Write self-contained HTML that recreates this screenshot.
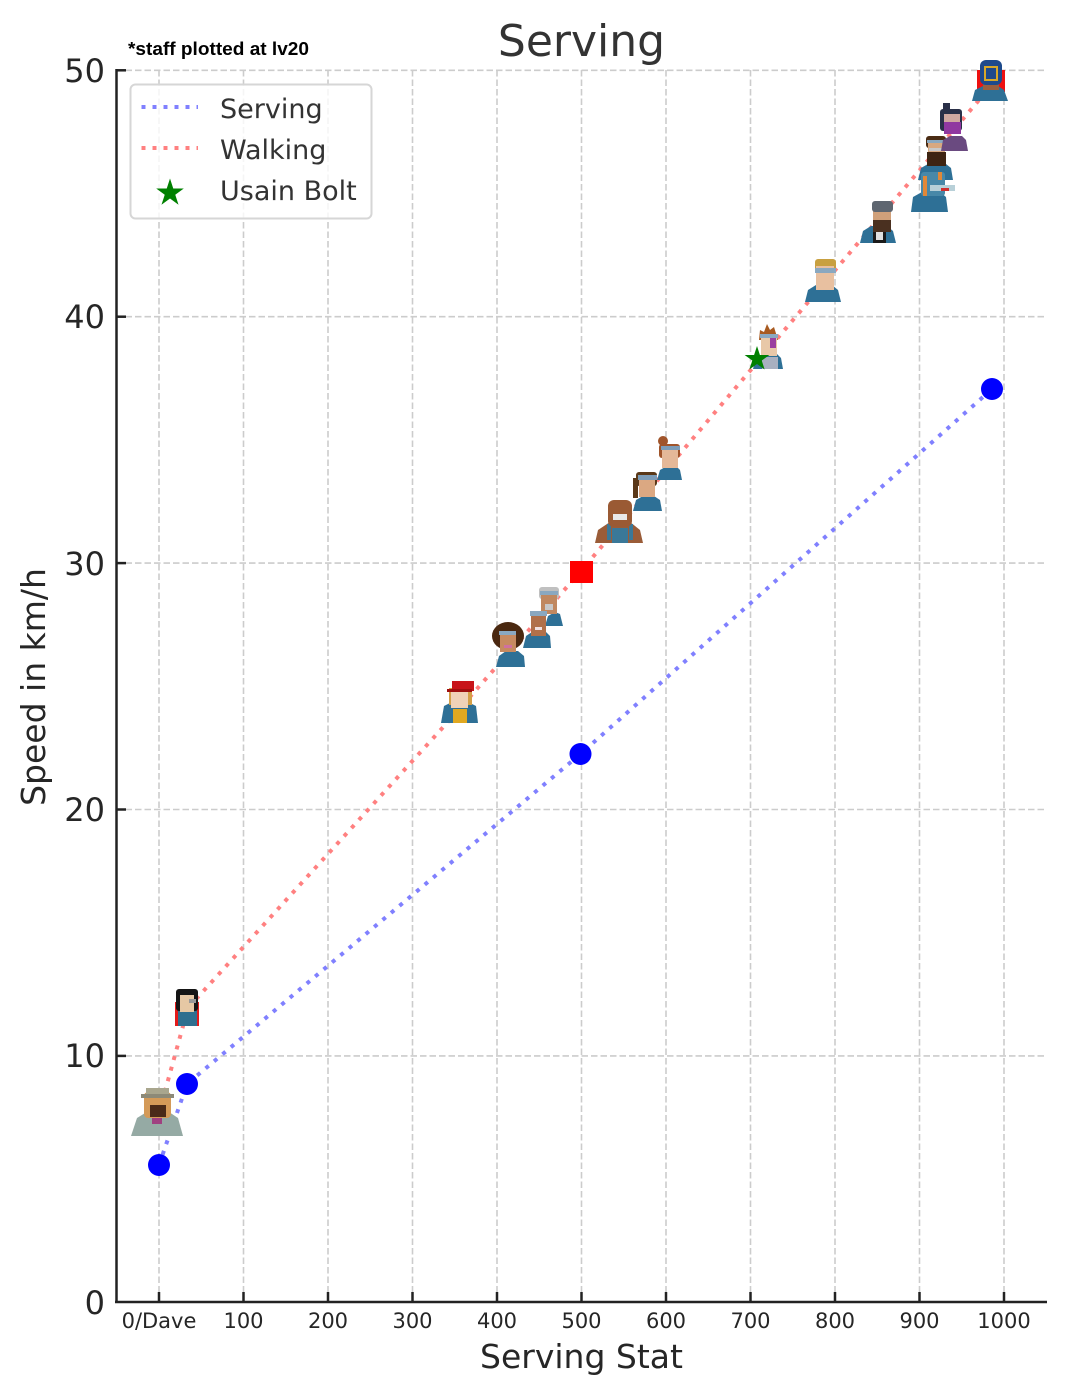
<!DOCTYPE html>
<html><head><meta charset="utf-8"><style>
html,body{margin:0;padding:0;background:#fff}
svg{display:block}
text{font-family:"DejaVu Sans","Liberation Sans",sans-serif}
</style></head><body>
<svg width="1066" height="1396" viewBox="0 0 1066 1396" xmlns="http://www.w3.org/2000/svg">
<rect width="1066" height="1396" fill="#fff"/>
<!-- grid -->
<g stroke="#cccccc" stroke-width="1.6" stroke-dasharray="6.5 3" fill="none">
<line x1="159" y1="70" x2="159" y2="1302"/>
<line x1="243.5" y1="70" x2="243.5" y2="1302"/>
<line x1="328" y1="70" x2="328" y2="1302"/>
<line x1="412.5" y1="70" x2="412.5" y2="1302"/>
<line x1="497" y1="70" x2="497" y2="1302"/>
<line x1="581.5" y1="70" x2="581.5" y2="1302"/>
<line x1="666" y1="70" x2="666" y2="1302"/>
<line x1="750.5" y1="70" x2="750.5" y2="1302"/>
<line x1="835" y1="70" x2="835" y2="1302"/>
<line x1="919.5" y1="70" x2="919.5" y2="1302"/>
<line x1="1004" y1="70" x2="1004" y2="1302"/>
<line x1="116" y1="70.3" x2="1047" y2="70.3"/>
<line x1="116" y1="316.7" x2="1047" y2="316.7"/>
<line x1="116" y1="563.1" x2="1047" y2="563.1"/>
<line x1="116" y1="809.5" x2="1047" y2="809.5"/>
<line x1="116" y1="1055.9" x2="1047" y2="1055.9"/>
</g>
<!-- series lines -->
<polyline points="159,1165 187,1084 580.5,754 992,389" fill="none" stroke="#8080ff" stroke-width="4" stroke-dasharray="4 7"/>
<polyline points="159,1113 188,1008 446,724 491,673 581,571 749,372 990,87" fill="none" stroke="#ff8080" stroke-width="4" stroke-dasharray="4 7"/>

<!-- portraits -->
<!-- Dave -->
<g>
<polygon points="131,1136 137,1118 150,1110 166,1110 178,1118 183,1136" fill="#95aaa4"/>
<rect x="152" y="1112" width="10" height="12" fill="#a04080"/>
<rect x="144" y="1092" width="27" height="26" rx="4" fill="#d49a58"/>
<rect x="150" y="1105" width="16" height="12" fill="#4a2a18"/>
<rect x="146" y="1088" width="23" height="8" fill="#a9a68e"/>
<rect x="141" y="1094" width="33" height="4" fill="#8d8a78"/>
</g>
<!-- girl black hair -->
<g>
<rect x="175" y="1002" width="24" height="24" fill="#e41a1a"/>
<rect x="178" y="1010" width="19" height="16" fill="#2f6f8f"/>
<rect x="176" y="989" width="22" height="22" rx="3" fill="#151515"/>
<rect x="180" y="995" width="14" height="17" fill="#e6c8a4"/>
<rect x="189" y="999" width="7" height="4" fill="#999"/>
</g>
<!-- red cap -->
<g>
<polygon points="441,723 444,706 452,702 468,702 476,706 478,723" fill="#2e7096"/>
<rect x="453" y="709" width="14" height="14" fill="#e0a820"/>
<rect x="449" y="688" width="23" height="17" fill="#d4a048"/>
<rect x="451" y="690" width="17" height="18" fill="#f0d2b8"/>
<rect x="452" y="681" width="22" height="10" fill="#c8141a"/>
<rect x="447" y="689" width="25" height="3" fill="#a01010"/>
</g>
<!-- grey hair -->
<g>
<polygon points="545,626 548,616 555,612 560,614 563,626" fill="#2e7096"/>
<rect x="539" y="587" width="20" height="12" rx="3" fill="#c0c0c0"/>
<rect x="541" y="593" width="16" height="21" fill="#c08860"/>
<rect x="545" y="604" width="8" height="6" fill="#c8c8c8"/>
<rect x="540" y="591" width="18" height="4" fill="#8aa8c0"/>
</g>
<!-- headband man -->
<g>
<polygon points="523,648 526,636 532,632 546,632 550,636 551,648" fill="#2e7096"/>
<rect x="531" y="611" width="15" height="25" fill="#b0704a"/>
<rect x="530" y="611" width="17" height="5" fill="#8aa8c0"/>
<rect x="535" y="627" width="7" height="3" fill="#f0e0e0"/>
</g>
<!-- afro -->
<g>
<polygon points="496,667 499,656 506,651 518,651 524,656 525,667" fill="#2e7096"/>
<ellipse cx="508" cy="636" rx="16" ry="14" fill="#4a2810"/>
<rect x="500" y="633" width="16" height="19" fill="#c78a60"/>
<rect x="499" y="631" width="17" height="4" fill="#8aa8c0"/>
<rect x="504" y="645" width="8" height="3" fill="#d070a0"/>
</g>
<!-- bald man -->
<g>
<polygon points="595,543 598,530 610,522 630,522 640,530 643,543" fill="#9a5c38"/>
<rect x="612" y="528" width="16" height="15" fill="#3a7898"/>
<rect x="607" y="524" width="4" height="16" fill="#3a7898"/>
<rect x="629" y="524" width="4" height="16" fill="#3a7898"/>
<rect x="608" y="500" width="24" height="27" rx="6" fill="#9a5a34"/>
<rect x="613" y="514" width="14" height="6" fill="#e8e8e8"/>
</g>
<!-- ponytail -->
<g>
<polygon points="633,511 636,500 643,496 654,496 660,500 662,511" fill="#2e7096"/>
<rect x="636" y="472" width="21" height="14" rx="3" fill="#5a3818"/>
<rect x="633" y="478" width="5" height="20" fill="#5a3818"/>
<rect x="639" y="477" width="16" height="20" fill="#dba882"/>
<rect x="638" y="475" width="19" height="5" fill="#7c9cb8"/>
</g>
<!-- bun -->
<g>
<polygon points="657,480 660,470 667,466 676,466 680,470 682,480" fill="#2e7096"/>
<circle cx="663" cy="441" r="5" fill="#a0542a"/>
<rect x="659" y="444" width="21" height="14" rx="3" fill="#a0542a"/>
<rect x="662" y="450" width="16" height="18" fill="#e4b898"/>
<rect x="661" y="446" width="19" height="4" fill="#7c9cb8"/>
</g>
<!-- punk -->
<g>
<polygon points="753,369 756,358 763,354 777,354 781,358 783,369" fill="#2e7096"/>
<rect x="762" y="357" width="16" height="12" fill="#a8b0c0"/>
<polygon points="759,340 760,330 764,332 767,324 770,330 774,327 778,340" fill="#a85a20"/>
<rect x="761" y="336" width="16" height="20" fill="#e8c8a8"/>
<rect x="770" y="338" width="6" height="10" fill="#9a40a0"/>
<rect x="760" y="334" width="18" height="4" fill="#8aa8c0"/>
</g>
<!-- blond -->
<g>
<polygon points="805,302 808,290 816,285 832,285 838,290 841,302" fill="#2e7096"/>
<rect x="815" y="259" width="21" height="13" rx="3" fill="#c8a040"/>
<rect x="816" y="266" width="18" height="24" fill="#e8c0a0"/>
<rect x="815" y="268" width="21" height="5" fill="#8aa8c0"/>
</g>
<!-- beanie -->
<g>
<polygon points="860,243 863,231 871,226 887,226 893,231 896,243" fill="#2e7096"/>
<rect x="873" y="229" width="13" height="14" fill="#1a1a1a"/>
<rect x="876" y="232" width="7" height="8" fill="#e0e0e0"/>
<rect x="873" y="210" width="18" height="22" fill="#d0a07a"/>
<rect x="873" y="220" width="18" height="12" fill="#4a3020"/>
<rect x="872" y="201" width="21" height="11" rx="3" fill="#5e6670"/>
</g>
<!-- glasses beard -->
<g>
<polygon points="918,180 921,168 928,164 946,164 951,168 953,180" fill="#2e7096"/>
<rect x="926" y="136" width="20" height="12" rx="3" fill="#4a2c14"/>
<rect x="928" y="141" width="17" height="22" fill="#d8a880"/>
<rect x="927" y="152" width="19" height="14" fill="#3e2412"/>
<rect x="929" y="148" width="15" height="3" fill="#c8c8c8"/>
<rect x="927" y="140" width="18" height="3" fill="#8aa8c0"/>
</g>
<!-- dino -->
<g>
<polygon points="911,212 913,197 922,192 940,192 946,197 948,212" fill="#2e7096"/>
<rect x="921" y="172" width="24" height="24" rx="3" fill="#4888a8"/>
<rect x="923" y="176" width="4" height="20" fill="#e08838"/>
<rect x="938" y="172" width="4" height="8" fill="#e08838"/>
<rect x="930" y="185" width="25" height="6" fill="#b8d0d8"/>
<rect x="941" y="188" width="8" height="3" fill="#d03030"/>
</g>
<!-- ninja -->
<g>
<polygon points="941,151 943,140 950,136 962,136 966,140 968,151" fill="#6a4a80"/>
<rect x="943" y="103" width="7" height="10" fill="#2a3048"/>
<rect x="940" y="109" width="22" height="22" rx="3" fill="#2a3048"/>
<rect x="944" y="114" width="16" height="19" fill="#d0a8a0"/>
<rect x="944" y="122" width="17" height="12" fill="#9038a0"/>
</g>
<!-- luchador -->
<g>
<rect x="977" y="70" width="28" height="22" fill="#ee1010"/>
<polygon points="972,101 975,90 983,86 998,86 1004,90 1008,101" fill="#2e7096"/>
<rect x="983" y="80" width="16" height="10" fill="#9a6040"/>
<rect x="980" y="60" width="22" height="25" rx="6" fill="#1e4a8c"/>
<rect x="985" y="67" width="12" height="13" fill="none" stroke="#d8a828" stroke-width="2"/>
</g>

<!-- markers -->
<rect x="570" y="561" width="23" height="22" fill="#ff0000"/>
<g fill="#0000ff">
<circle cx="159" cy="1165" r="11"/>
<circle cx="187" cy="1084" r="11"/>
<circle cx="580.5" cy="754" r="11"/>
<circle cx="992" cy="389" r="11"/>
</g>
<path transform="translate(757,359) scale(13)" d="M0,-1 L0.2245,-0.309 L0.951,-0.309 L0.363,0.118 L0.588,0.809 L0,0.382 L-0.588,0.809 L-0.363,0.118 L-0.951,-0.309 L-0.2245,-0.309 Z" fill="#008000"/>

<!-- spines & ticks -->
<g stroke="#222" stroke-width="2.5" fill="none">
<line x1="116.5" y1="69" x2="116.5" y2="1303"/>
<line x1="115" y1="1302" x2="1047" y2="1302"/>
<line x1="116" y1="70.3" x2="126" y2="70.3"/>
<line x1="116" y1="316.7" x2="126" y2="316.7"/>
<line x1="116" y1="563.1" x2="126" y2="563.1"/>
<line x1="116" y1="809.5" x2="126" y2="809.5"/>
<line x1="116" y1="1055.9" x2="126" y2="1055.9"/>
<line x1="159" y1="1292" x2="159" y2="1302"/>
<line x1="243.5" y1="1292" x2="243.5" y2="1302"/>
<line x1="328" y1="1292" x2="328" y2="1302"/>
<line x1="412.5" y1="1292" x2="412.5" y2="1302"/>
<line x1="497" y1="1292" x2="497" y2="1302"/>
<line x1="581.5" y1="1292" x2="581.5" y2="1302"/>
<line x1="666" y1="1292" x2="666" y2="1302"/>
<line x1="750.5" y1="1292" x2="750.5" y2="1302"/>
<line x1="835" y1="1292" x2="835" y2="1302"/>
<line x1="919.5" y1="1292" x2="919.5" y2="1302"/>
<line x1="1004" y1="1292" x2="1004" y2="1302"/>
</g>

<!-- y tick labels -->
<g font-size="32" fill="#262626" text-anchor="end">
<text x="105" y="82">50</text>
<text x="105" y="328">40</text>
<text x="105" y="575">30</text>
<text x="105" y="821">20</text>
<text x="105" y="1067">10</text>
<text x="105" y="1314">0</text>
</g>
<!-- x tick labels -->
<g font-size="21" fill="#262626" text-anchor="middle">
<text x="159" y="1328">0/Dave</text>
<text x="243.5" y="1328">100</text>
<text x="328" y="1328">200</text>
<text x="412.5" y="1328">300</text>
<text x="497" y="1328">400</text>
<text x="581.5" y="1328">500</text>
<text x="666" y="1328">600</text>
<text x="750.5" y="1328">700</text>
<text x="835" y="1328">800</text>
<text x="919.5" y="1328">900</text>
<text x="1004" y="1328">1000</text>
</g>
<!-- axis labels & title -->
<text x="581.5" y="1368" font-size="33" fill="#262626" text-anchor="middle">Serving Stat</text>
<text transform="translate(45,687) rotate(-90)" font-size="33" fill="#262626" text-anchor="middle">Speed in km/h</text>
<text x="581.5" y="56" font-size="44" fill="#333" text-anchor="middle">Serving</text>
<text x="128" y="55" font-size="18" font-weight="bold" fill="#000" style="font-family:'Liberation Sans',sans-serif" textLength="181" lengthAdjust="spacingAndGlyphs">*staff plotted at lv20</text>

<!-- legend -->
<rect x="130.5" y="84.5" width="241" height="134" rx="5" fill="#fff" fill-opacity="0.8" stroke="#d6d6d6" stroke-width="2"/>
<line x1="141.5" y1="107" x2="198" y2="107" stroke="#8080ff" stroke-width="4" stroke-dasharray="4 7"/>
<line x1="141.5" y1="148" x2="198" y2="148" stroke="#ff8080" stroke-width="4" stroke-dasharray="4 7"/>
<path transform="translate(170,193) scale(14.5)" d="M0,-1 L0.2245,-0.309 L0.951,-0.309 L0.363,0.118 L0.588,0.809 L0,0.382 L-0.588,0.809 L-0.363,0.118 L-0.951,-0.309 L-0.2245,-0.309 Z" fill="#008000"/>
<g font-size="27" fill="#333">
<text x="220" y="118">Serving</text>
<text x="220" y="159">Walking</text>
<text x="220" y="200">Usain Bolt</text>
</g>
</svg>
</body></html>
